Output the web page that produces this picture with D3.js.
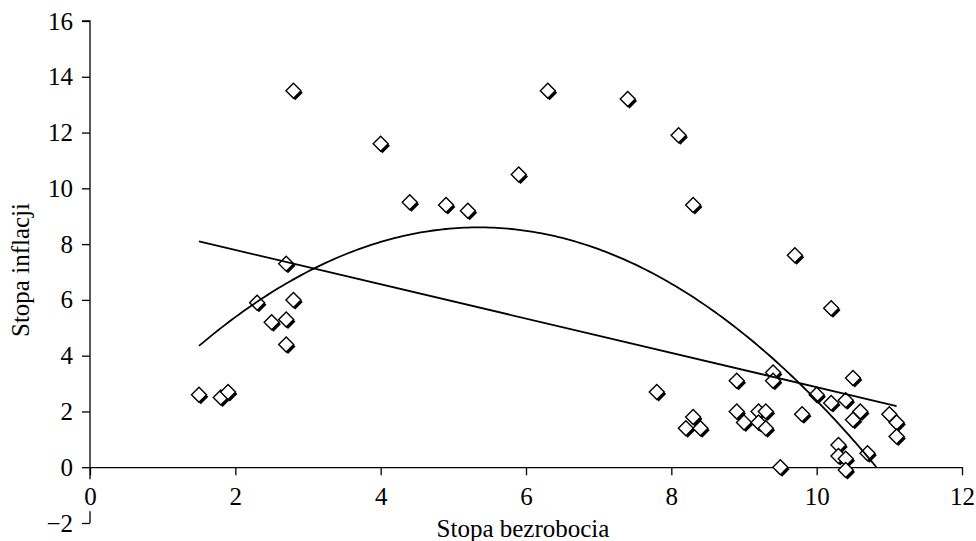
<!DOCTYPE html>
<html>
<head>
<meta charset="utf-8">
<script src="https://cdn.jsdelivr.net/npm/d3@7"></script>
<style>
  body { margin: 0; background: #fff; }
  svg { display: block; font-family: "Liberation Serif", "Times New Roman", serif; }
</style>
</head>
<body>
<div id="chart"></div>
<script>
// unemployment (x) vs inflation (y)
var unemployment = [1.5, 1.8, 1.9, 2.3, 2.5, 2.7, 2.7, 2.7, 2.8, 2.8,
  4.0, 4.4, 4.9, 5.2, 5.9, 6.3, 7.4, 7.8, 8.1, 8.3,
  8.3, 8.2, 8.4, 8.9, 8.9, 9.0, 9.2, 9.3, 9.2, 9.3,
  9.4, 9.4, 9.5, 9.7, 9.8, 10.0, 10.2, 10.2, 10.3, 10.3,
  10.4, 10.4, 10.4, 10.5, 10.5, 10.6, 10.7, 11.0, 11.1, 11.1];
var inflation = [2.6, 2.5, 2.7, 5.9, 5.2, 5.3, 4.4, 7.3, 6.0, 13.5,
  11.6, 9.5, 9.4, 9.2, 10.5, 13.5, 13.2, 2.7, 11.9, 9.4,
  1.8, 1.4, 1.4, 3.1, 2.0, 1.6, 2.0, 2.0, 1.6, 1.4,
  3.4, 3.1, 0.0, 7.6, 1.9, 2.6, 2.3, 5.7, 0.8, 0.4,
  2.4, 0.3, -0.1, 3.2, 1.7, 2.0, 0.5, 1.9, 1.6, 1.1];

var xTicks = [0, 2, 4, 6, 8, 10, 12];
var yTicks = [-2, 0, 2, 4, 6, 8, 10, 12, 14, 16];

// trend lines: linear and quadratic
var linCoef = [9.02, -0.615];
var linRange = [1.5, 11.1];
var quadCoef = [0.39, 3.07, -0.287];
var quadRange = [1.5, 10.82];

var width = 976, height = 541;
var fontSize = "25px";

var svg = d3.select("#chart").append("svg")
    .attr("width", width)
    .attr("height", height);

var x = d3.scaleLinear().domain([0, 12]).range([90, 962]);
var y = d3.scaleLinear().domain([-2, 16]).range([523, 21]);

// y axis
var yAxis = svg.append("g")
    .attr("transform", "translate(" + x(0) + ",0)")
    .call(d3.axisLeft(y).tickValues(yTicks).tickSize(8).tickPadding(9)
      .tickFormat(function(d) { return d < 0 ? "\u2212" + Math.abs(d) : d; }));
yAxis.select(".domain").attr("d", "M0," + y(16) + "H-8V" + y(16) + "H0V" + y(-2));
yAxis.selectAll("text").style("font-size", fontSize).attr("fill", "#000")
    .attr("font-family", "Liberation Serif");
yAxis.selectAll("line, path").attr("stroke", "#000").attr("stroke-width", 1.3);

// x axis on y = 0
var xAxis = svg.append("g")
    .attr("transform", "translate(0," + y(0) + ")")
    .call(d3.axisBottom(x).tickValues(xTicks).tickSize(8).tickPadding(12).tickSizeOuter(0));
xAxis.selectAll(".tick").insert("rect", "text")
    .attr("x", -9).attr("y", 12).attr("width", 18).attr("height", 32)
    .attr("fill", "#fff");
xAxis.selectAll("text").style("font-size", fontSize).attr("fill", "#000")
    .attr("font-family", "Liberation Serif");
xAxis.selectAll("line, path").attr("stroke", "#000").attr("stroke-width", 1.3);

// axis titles
svg.append("text")
    .attr("x", 523).attr("y", 537)
    .attr("text-anchor", "middle")
    .style("font-size", fontSize)
    .text("Stopa bezrobocia");

svg.append("text")
    .attr("transform", "translate(29,270) rotate(-90)")
    .attr("text-anchor", "middle")
    .style("font-size", fontSize)
    .text("Stopa inflacji");

// points
var points = unemployment.map(function(u, i) { return {x: u, y: inflation[i]}; });
var diamond = "M0,-7.5L7.5,0L0,7.5L-7.5,0Z";

var marks = svg.append("g").selectAll("g")
    .data(points)
    .enter().append("g")
    .attr("transform", function(d) { return "translate(" + x(d.x) + "," + y(d.y) + ")"; });

marks.append("path")
    .attr("d", diamond)
    .attr("transform", "translate(1.8,2)")
    .attr("fill", "#000");

marks.append("path")
    .attr("d", diamond)
    .attr("fill", "#fff")
    .attr("stroke", "#000")
    .attr("stroke-width", 1.4);

// trend lines
var line = d3.line()
    .x(function(d) { return x(d[0]); })
    .y(function(d) { return y(d[1]); });

var linPts = linRange.map(function(v) { return [v, linCoef[0] + linCoef[1] * v]; });
svg.append("path")
    .attr("d", line(linPts))
    .attr("fill", "none")
    .attr("stroke", "#000")
    .attr("stroke-width", 1.8);

var quadPts = d3.range(quadRange[0], quadRange[1], 0.05).concat([quadRange[1]])
    .map(function(v) { return [v, quadCoef[0] + quadCoef[1] * v + quadCoef[2] * v * v]; });
svg.append("path")
    .attr("d", line(quadPts))
    .attr("fill", "none")
    .attr("stroke", "#000")
    .attr("stroke-width", 1.8);
</script>
</body>
</html>
